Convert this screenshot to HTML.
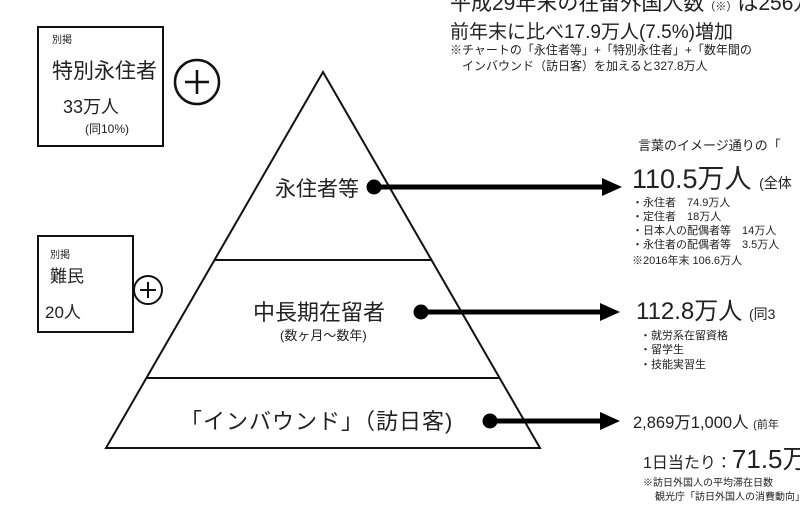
<!DOCTYPE html>
<html><head><meta charset="utf-8"><style>
body{margin:0;background:#fff;width:800px;height:524px;overflow:hidden}
svg{display:block}
text{font-family:"Liberation Sans","Noto Sans CJK JP",sans-serif;fill:#222}
</style></head><body>
<svg width="800" height="524" viewBox="0 0 800 524">
<!-- header -->
<text x="450" y="10" font-size="21">平成29年末の在留外国人数<tspan font-size="11">（※）</tspan>は256万</text>
<text x="450" y="38" font-size="19">前年末に比べ17.9万人(7.5%)増加</text>
<text x="450" y="54" font-size="12">※チャートの「永住者等」+「特別永住者」+「数年間の</text>
<text x="462" y="70" font-size="12">インバウンド（訪日客）を加えると327.8万人</text>
<!-- boxes -->
<rect x="38" y="27" width="125" height="119" fill="none" stroke="#111" stroke-width="2"/>
<text x="52" y="43" font-size="10">別掲</text>
<text x="52" y="78" font-size="21">特別永住者</text>
<text x="63" y="113" font-size="18">33万人</text>
<text x="85" y="133" font-size="12">(同10%)</text>
<circle cx="197" cy="82" r="22" fill="#fff" stroke="#111" stroke-width="2.5"/>
<path d="M185 82H209M197 70V94" stroke="#111" stroke-width="2.5"/>
<rect x="38" y="236" width="95" height="96" fill="none" stroke="#111" stroke-width="2"/>
<text x="50" y="258" font-size="10">別掲</text>
<text x="50" y="282" font-size="17">難民</text>
<text x="45" y="318" font-size="17">20人</text>
<circle cx="148" cy="290" r="14" fill="#fff" stroke="#111" stroke-width="2"/>
<path d="M140 290H156M148 282V298" stroke="#111" stroke-width="2"/>
<!-- pyramid -->
<polygon points="323,72 540,448 106,448" fill="none" stroke="#111" stroke-width="2"/>
<line x1="215" y1="260" x2="431" y2="260" stroke="#111" stroke-width="2"/>
<line x1="146" y1="378" x2="500" y2="378" stroke="#111" stroke-width="2"/>
<text x="275" y="196" font-size="21">永住者等</text>
<text x="253" y="320" font-size="22">中長期在留者</text>
<text x="280" y="340" font-size="13">(数ヶ月〜数年)</text>
<text x="180" y="429" font-size="22" letter-spacing="1">「インバウンド」（訪日客)</text>
<!-- arrows -->
<g fill="#000" stroke="#000">
<circle cx="374" cy="187" r="7"/><line x1="374" y1="187" x2="604" y2="187" stroke-width="5"/><polygon points="602,178 622,187 602,196" stroke="none"/>
<circle cx="421" cy="312" r="7"/><line x1="421" y1="312" x2="602" y2="312" stroke-width="5"/><polygon points="600,303 620,312 600,321" stroke="none"/>
<circle cx="490" cy="421" r="7"/><line x1="490" y1="421" x2="602" y2="421" stroke-width="5"/><polygon points="600,412 620,421 600,430" stroke="none"/>
</g>
<!-- right texts -->
<text x="638" y="150" font-size="13">言葉のイメージ通りの「</text>
<text x="632" y="188" font-size="27">110.5万人 <tspan font-size="14">(全体</tspan></text>
<text x="632" y="206" font-size="11">・永住者　74.9万人</text>
<text x="632" y="220" font-size="11">・定住者　18万人</text>
<text x="632" y="234" font-size="11">・日本人の配偶者等　14万人</text>
<text x="632" y="248" font-size="11">・永住者の配偶者等　3.5万人</text>
<text x="632" y="264" font-size="11">※2016年末 106.6万人</text>
<text x="636" y="319" font-size="24">112.8万人 <tspan font-size="14">(同3</tspan></text>
<text x="640" y="339" font-size="11">・就労系在留資格</text>
<text x="640" y="353" font-size="11">・留学生</text>
<text x="640" y="368" font-size="11">・技能実習生</text>
<text x="633" y="428" font-size="16.5">2,869万1,000人 <tspan font-size="11">(前年</tspan></text>
<text x="643" y="468" font-size="16">1日当たり：<tspan font-size="26">71.5万</tspan></text>
<text x="643" y="486" font-size="10">※訪日外国人の平均滞在日数</text>
<text x="655" y="500" font-size="10">観光庁「訪日外国人の消費動向」</text>
</svg>
</body></html>
